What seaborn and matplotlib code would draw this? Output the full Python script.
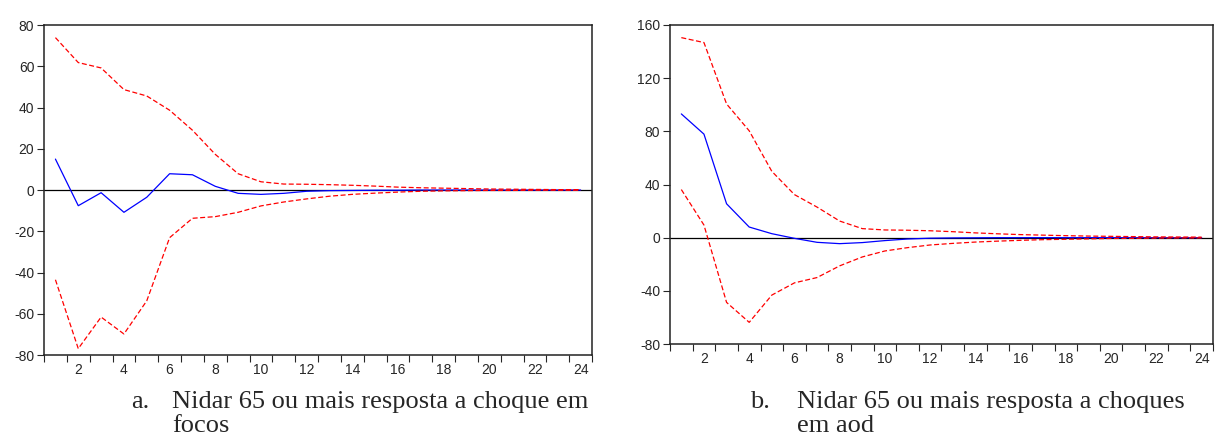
import matplotlib
matplotlib.use("Agg")
import matplotlib.pyplot as plt
import numpy as np
import pandas as pd
import seaborn as sns

# periods 1..24
PERIODS = list(range(1, 25))

# panel a: response to shock in focos
A_RESP = [15.0, -7.6, -1.3, -10.8, -3.5, 7.9, 7.4, 1.8, -1.6, -2.1, -1.6, -0.6,
          -0.3, -0.2, -0.1, -0.1, 0.0, 0.0, 0.0, 0.0, 0.0, 0.0, 0.0, 0.0]
A_UPPER = [73.9, 61.8, 59.2, 48.7, 45.6, 38.7, 29.0, 17.3, 7.9, 4.0, 2.9, 2.8,
           2.6, 2.3, 1.9, 1.4, 1.1, 0.9, 0.7, 0.5, 0.4, 0.3, 0.2, 0.2]
A_LOWER = [-43.5, -76.9, -61.6, -69.8, -53.7, -23.1, -13.7, -12.9, -10.8, -7.7, -5.8, -4.3,
           -3.0, -2.1, -1.5, -1.0, -0.6, -0.4, -0.3, -0.2, -0.2, -0.1, -0.1, -0.1]

# panel b: response to shocks in aod
B_RESP = [93.1, 77.9, 25.5, 8.0, 3.0, -0.5, -3.5, -4.5, -3.7, -2.2, -1.0, -0.4,
          -0.2, -0.1, 0.0, 0.0, 0.0, 0.0, 0.0, 0.0, 0.0, 0.0, 0.0, 0.0]
B_UPPER = [150.5, 146.8, 100.6, 80.4, 49.9, 32.4, 23.0, 12.5, 6.8, 5.8, 5.6, 5.2,
           4.5, 3.6, 2.9, 2.3, 1.9, 1.5, 1.2, 1.0, 0.8, 0.6, 0.5, 0.4]
B_LOWER = [36.2, 9.5, -48.7, -63.7, -43.2, -34.0, -30.0, -21.2, -14.5, -10.0, -7.5, -5.5,
           -4.3, -3.3, -2.6, -2.0, -1.5, -1.2, -0.9, -0.6, -0.5, -0.3, -0.2, -0.2]

CAPTION_A = ["Nidar 65 ou mais resposta a choque em", "focos"]
CAPTION_B = ["Nidar 65 ou mais resposta a choques", "em aod"]


def make_df(resp, upper, lower):
    frames = []
    for name, vals in [("resp", resp), ("upper", upper), ("lower", lower)]:
        frames.append(pd.DataFrame({"period": PERIODS, "value": vals, "series": name}))
    return pd.concat(frames, ignore_index=True)


def draw_panel(ax, df, ylim, yticks):
    sns.lineplot(
        ax=ax, data=df, x="period", y="value", hue="series", style="series",
        palette={"resp": "#0000ff", "upper": "#ff0000", "lower": "#ff0000"},
        dashes={"resp": "", "upper": (4, 2), "lower": (4, 2)},
        linewidth=0.9, legend=False,
    )
    ax.axhline(0, color="black", linewidth=0.9, zorder=0)
    ax.set_xlim(0.5, 24.5)
    ax.set_ylim(*ylim)
    ax.set_yticks(yticks)
    ax.set_xticks(range(2, 25, 2))
    ax.set_xticks(np.arange(0.5, 25, 1), minor=True)
    ax.tick_params(axis="x", which="major", length=0, pad=6, labelsize=10)
    ax.tick_params(axis="x", which="minor", length=5, width=0.8, direction="out")
    ax.tick_params(axis="y", length=5, width=0.8, direction="out", labelsize=10, pad=2)
    ax.set_xlabel("")
    ax.set_ylabel("")
    for sp in ax.spines.values():
        sp.set_visible(True)
        sp.set_color("#222222")
        sp.set_linewidth(1.1)


def caption(fig, x_label, x_text, label, lines):
    serif = ["Liberation Serif", "DejaVu Serif"]
    baselines = [408, 432]
    fig.text(x_label / 1216, (437 - baselines[0]) / 437, label,
             family=serif, fontsize=19, va="baseline")
    for line, yb in zip(lines, baselines):
        fig.text(x_text / 1216, (437 - yb) / 437, line,
                 family=serif, fontsize=19, va="baseline")


def main() -> None:
    sns.set_style("ticks")
    plt.rcParams["font.family"] = ["Liberation Sans", "DejaVu Sans"]
    plt.rcParams["axes.unicode_minus"] = False

    fig = plt.figure(figsize=(12.16, 4.37), dpi=100)
    ax_a = fig.add_axes([0.0362, 0.1876, 0.4507, 0.7551])
    ax_b = fig.add_axes([0.551, 0.2128, 0.4465, 0.730])

    draw_panel(ax_a, make_df(A_RESP, A_UPPER, A_LOWER), (-80, 80), range(-80, 81, 20))
    draw_panel(ax_b, make_df(B_RESP, B_UPPER, B_LOWER), (-80, 160), range(-80, 161, 40))

    caption(fig, 131, 172, "a.", CAPTION_A)
    caption(fig, 750, 797, "b.", CAPTION_B)

    fig.savefig("out.png", dpi=100)


if __name__ == "__main__":
    main()
